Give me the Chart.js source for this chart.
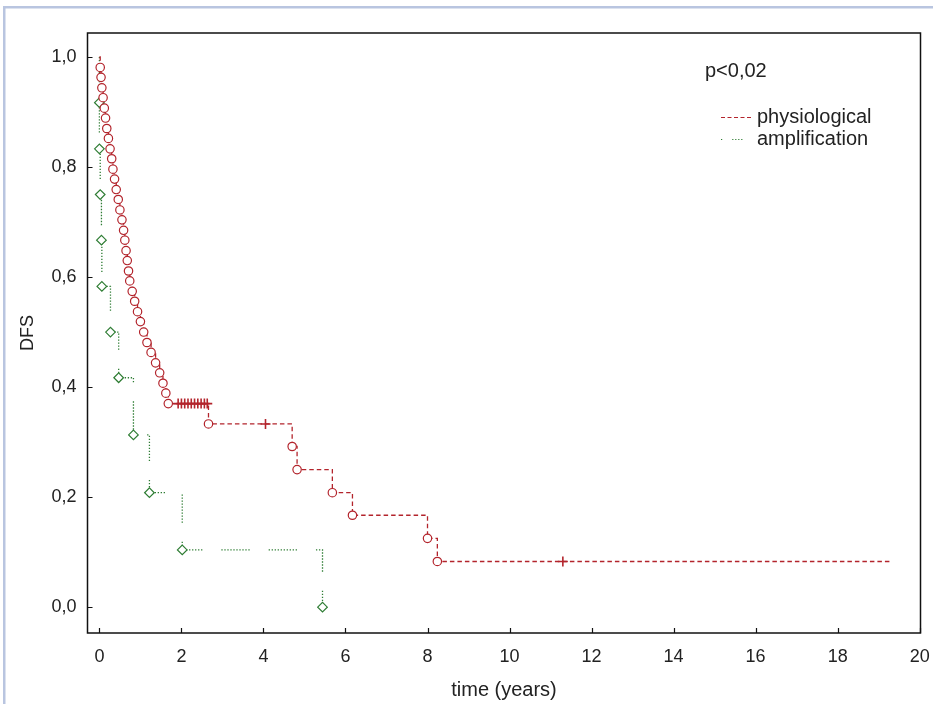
<!DOCTYPE html>
<html>
<head>
<meta charset="utf-8">
<script src="https://cdn.jsdelivr.net/npm/chart.js@4.4.1/dist/chart.umd.min.js"></script>
<style>
  html, body { margin: 0; padding: 0; background: #fff; }
  #wrap { position: relative; width: 933px; height: 704px; }
</style>
</head>
<body>
<div id="wrap"><canvas id="km" width="933" height="704"></canvas></div>
<script>
// x ticks (years) and y ticks (DFS)
const xTicks = [0, 2, 4, 6, 8, 10, 12, 14, 16, 18, 20];
const yTicks = [0, 0.2, 0.4, 0.6, 0.8, 1.0];

// physiological: complete observations (time, DFS after the drop)
const physT = [0.02, 0.04, 0.06, 0.09, 0.12, 0.15, 0.18, 0.22, 0.26, 0.30, 0.33, 0.37, 0.41, 0.46, 0.50, 0.55, 0.59,
  0.62, 0.65, 0.68, 0.71, 0.74, 0.80, 0.86, 0.93, 1.00, 1.08, 1.16, 1.26, 1.37, 1.47, 1.55, 1.62, 1.68,
  2.66, 4.70, 4.82, 5.68, 6.17, 8.00, 8.24];
const physS = [0.981, 0.963, 0.944, 0.926, 0.907, 0.889, 0.870, 0.852, 0.833, 0.815, 0.796, 0.778, 0.759, 0.741, 0.722, 0.704, 0.685,
  0.667, 0.648, 0.630, 0.611, 0.593, 0.574, 0.556, 0.537, 0.519, 0.500, 0.481, 0.463, 0.444, 0.426, 0.407, 0.389, 0.370,
  0.333, 0.292, 0.250, 0.208, 0.167, 0.125, 0.083];
// physiological: censored observations
const physCensT = [1.92, 2.00, 2.08, 2.16, 2.24, 2.32, 2.40, 2.48, 2.56, 2.63, 4.05, 11.30];
const physCensS = [0.370, 0.370, 0.370, 0.370, 0.370, 0.370, 0.370, 0.370, 0.370, 0.370, 0.333, 0.083];
const physEnd = [19.3, 0.083];

// amplification: complete observations
const amplT = [0.00, 0.00, 0.02, 0.05, 0.06, 0.27, 0.47, 0.83, 1.22, 2.02, 5.44];
const amplS = [0.917, 0.833, 0.750, 0.667, 0.583, 0.500, 0.417, 0.313, 0.208, 0.104, 0.000];

const RED = '#b3242c';
const GREEN = '#2f7d34';
const FONT = 'Liberation Sans, Arial, sans-serif';
const FSIZE = 18;

function pts(ts, ss) { return ts.map((t, i) => ({ x: t, y: ss[i] })); }

function stepLine(start, ts, ss, end) {
  const out = [{ x: start[0], y: start[1] }];
  out.push(...pts(ts, ss));
  if (end) out.push({ x: end[0], y: end[1] });
  return out.sort((a, b) => a.x - b.x);
}

const physLine = stepLine([0, 1.0], physT.concat(physCensT), physS.concat(physCensS), physEnd);
const amplLine = stepLine([0, 1.0], amplT, amplS, null);

const dotDash = [];
for (let i = 0; i < 10; i++) dotDash.push(1.3, 1.7);
dotDash[dotDash.length - 1] = 19;

// box, inward ticks, legend, outer frame
const decor = {
  id: 'decor',
  beforeDraw(chart) {
    const c = chart.ctx;
    c.save();
    c.fillStyle = '#fff';
    c.fillRect(0, 0, chart.width, chart.height);
    c.fillStyle = '#b9c5e0';
    c.fillRect(3, 6, chart.width - 3, 2.5);
    c.fillRect(3, 6, 2.5, chart.height - 6);
    c.restore();
  },
  afterDraw(chart) {
    const c = chart.ctx;
    const a = chart.chartArea;
    const xs = chart.scales.x, ys = chart.scales.y;
    c.save();
    c.strokeStyle = '#111';
    c.lineWidth = 1.5;
    c.strokeRect(a.left, a.top, a.right - a.left, a.bottom - a.top);
    c.lineWidth = 1.2;
    c.beginPath();
    xTicks.forEach(v => {
      const px = Math.round(xs.getPixelForValue(v)) + 0.5;
      c.moveTo(px, a.bottom); c.lineTo(px, a.bottom - 5);
    });
    yTicks.forEach(v => {
      const py = Math.round(ys.getPixelForValue(v)) + 0.5;
      c.moveTo(a.left, py); c.lineTo(a.left + 5, py);
    });
    c.stroke();

    // legend
    c.font = '20px ' + FONT;
    c.fillStyle = '#222';
    c.textBaseline = 'middle';
    c.fillText('p<0,02', 705, 71);
    c.fillText('physiological', 757, 117);
    c.fillText('amplification', 757, 139);
    c.lineWidth = 1.2;
    c.strokeStyle = RED;
    c.setLineDash([4, 2.5]);
    c.beginPath(); c.moveTo(721, 117.5); c.lineTo(751, 117.5); c.stroke();
    c.strokeStyle = GREEN;
    c.setLineDash([1.2, 10, 1.2, 1.8, 1.2, 1.8, 1.2, 1.8, 1.2, 20]);
    c.beginPath(); c.moveTo(721, 139.5); c.lineTo(751, 139.5); c.stroke();
    c.restore();
  }
};

const ctx = document.getElementById('km').getContext('2d');
new Chart(ctx, {
  type: 'line',
  data: {
    datasets: [
      {
        label: 'physiological',
        data: physLine,
        stepped: 'before',
        borderColor: RED,
        borderWidth: 1.3,
        borderDash: [4.5, 3],
        pointRadius: 0,
        fill: false,
        order: 3
      },
      {
        label: 'amplification',
        data: amplLine,
        stepped: 'before',
        borderColor: GREEN,
        borderWidth: 1.3,
        borderDash: dotDash,
        pointRadius: 0,
        fill: false,
        order: 4
      },
      {
        label: 'physiological complete',
        data: pts(physT, physS),
        showLine: false,
        pointStyle: 'circle',
        pointRadius: 4.2,
        pointBorderWidth: 1.2,
        pointBorderColor: RED,
        pointBackgroundColor: '#fff',
        order: 1
      },
      {
        label: 'physiological censored',
        data: pts(physCensT, physCensS),
        showLine: false,
        pointStyle: 'cross',
        pointRadius: 5,
        pointBorderWidth: 1.6,
        pointBorderColor: RED,
        order: 1
      },
      {
        label: 'amplification complete',
        data: pts(amplT, amplS),
        showLine: false,
        pointStyle: 'rectRot',
        pointRadius: 4.8,
        pointBorderWidth: 1.2,
        pointBorderColor: GREEN,
        pointBackgroundColor: '#fff',
        order: 2
      }
    ]
  },
  options: {
    responsive: false,
    animation: false,
    devicePixelRatio: 1,
    layout: { autoPadding: false, padding: { left: 0, right: 12.5, top: 33, bottom: 0 } },
    plugins: { legend: { display: false }, tooltip: { enabled: false } },
    scales: {
      x: {
        type: 'linear',
        min: -0.29,
        max: 20.02,
        afterBuildTicks: s => { s.ticks = xTicks.map(v => ({ value: v })); },
        afterFit: s => { s.height = 71; s.paddingLeft = 0; s.paddingRight = 0; },
        grid: { display: false, drawTicks: false },
        border: { display: false },
        ticks: { padding: 13, color: '#222', font: { family: FONT, size: FSIZE }, callback: v => String(v) },
        title: { display: true, text: 'time (years)', color: '#222', font: { family: FONT, size: 20 }, padding: { bottom: 2 } }
      },
      y: {
        type: 'linear',
        min: -0.047,
        max: 1.0436,
        afterBuildTicks: s => { s.ticks = yTicks.map(v => ({ value: v })); },
        afterFit: s => { s.width = 87.5; s.paddingTop = 0; s.paddingBottom = 0; },
        grid: { display: false, drawTicks: false },
        border: { display: false },
        ticks: { padding: 11, color: '#222', font: { family: FONT, size: FSIZE }, callback: v => v.toFixed(1).replace('.', ',') },
        title: { display: true, text: 'DFS', color: '#222', font: { family: FONT, size: FSIZE }, padding: { top: 17 } }
      }
    }
  },
  plugins: [decor]
});
</script>
</body>
</html>
